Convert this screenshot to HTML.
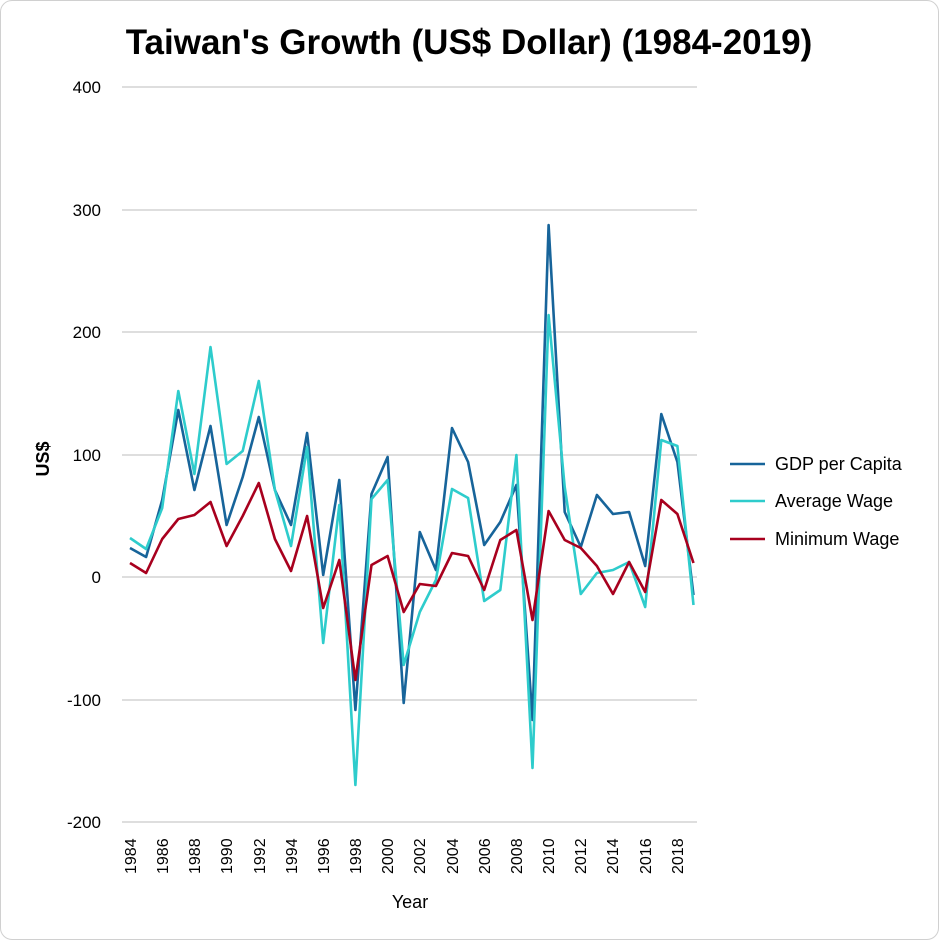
<!DOCTYPE html>
<html><head><meta charset="utf-8"><style>
body{margin:0;background:#fff;}
.card{position:absolute;left:0;top:0;width:937px;height:938px;border:1px solid #d0d0d0;border-radius:12px;background:#fff;}
</style></head><body>
<div class="card"></div>
<svg width="939" height="940" style="position:absolute;left:0;top:0" font-family="Liberation Sans, sans-serif">
<text x="469" y="54" text-anchor="middle" font-size="35" font-weight="bold" fill="#000">Taiwan's Growth (US$ Dollar) (1984-2019)</text>
<g stroke="#d4d4d4" stroke-width="1.5">
<line x1="122" x2="697" y1="87" y2="87"/><line x1="122" x2="697" y1="210" y2="210"/>
<line x1="122" x2="697" y1="332" y2="332"/><line x1="122" x2="697" y1="455" y2="455"/>
<line x1="122" x2="697" y1="577" y2="577"/><line x1="122" x2="697" y1="700" y2="700"/>
<line x1="122" x2="697" y1="822" y2="822"/></g>
<g font-size="17" fill="#000" text-anchor="end">
<text x="101" y="93">400</text><text x="101" y="216">300</text><text x="101" y="338">200</text>
<text x="101" y="461">100</text><text x="101" y="583">0</text><text x="101" y="706">-100</text><text x="101" y="828">-200</text></g>
<text transform="translate(49,459) rotate(-90)" text-anchor="middle" font-size="18" font-weight="bold">US$</text>
<text x="410" y="908" text-anchor="middle" font-size="18">Year</text>
<g fill="none" stroke-width="2.6" stroke-linejoin="round">
<polyline id="g" stroke="#17649a"/><polyline id="a" stroke="#2ecccc"/><polyline id="m" stroke="#a8001e"/></g>
<g stroke-width="2.6">
<line x1="730" x2="765" y1="464" y2="464" stroke="#17649a"/>
<line x1="730" x2="765" y1="501" y2="501" stroke="#2ecccc"/>
<line x1="730" x2="765" y1="539" y2="539" stroke="#a8001e"/></g>
<g font-size="18"><text x="775" y="470">GDP per Capita</text><text x="775" y="507">Average Wage</text><text x="775" y="545">Minimum Wage</text></g>
<g id="labels" font-size="16">
<text transform="translate(136,874) rotate(-90)">1984</text>
<text transform="translate(168,874) rotate(-90)">1986</text>
<text transform="translate(200,874) rotate(-90)">1988</text>
<text transform="translate(232,874) rotate(-90)">1990</text>
<text transform="translate(265,874) rotate(-90)">1992</text>
<text transform="translate(297,874) rotate(-90)">1994</text>
<text transform="translate(329,874) rotate(-90)">1996</text>
<text transform="translate(361,874) rotate(-90)">1998</text>
<text transform="translate(393,874) rotate(-90)">2000</text>
<text transform="translate(425,874) rotate(-90)">2002</text>
<text transform="translate(458,874) rotate(-90)">2004</text>
<text transform="translate(490,874) rotate(-90)">2006</text>
<text transform="translate(522,874) rotate(-90)">2008</text>
<text transform="translate(554,874) rotate(-90)">2010</text>
<text transform="translate(586,874) rotate(-90)">2012</text>
<text transform="translate(618,874) rotate(-90)">2014</text>
<text transform="translate(651,874) rotate(-90)">2016</text>
<text transform="translate(683,874) rotate(-90)">2018</text>
</g>
</svg>
<script>
var G=[548,557,500,410,490,426,525,477,417,490,525,433,575,480,710,494,457,703,532,570,428,462,545,522,485,720,225,512,547,495,514,512,566,414,462,595];
var A=[538,549,508,391,474,347,464,451,381,490,546,447,643,505,785,499,480,665,612,580,489,498,601,590,455,768,315,487,594,573,570,562,607,440,446,605];
var M=[563,573,539,519,515,502,546,516,483,539,571,516,608,560,680,565,556,612,584,586,553,556,590,540,530,620,511,540,548,566,594,562,592,500,514,563];
function p(d){return d.map(function(y,i){return (130+16.1*i).toFixed(1)+","+y}).join(" ");}
document.getElementById("g").setAttribute("points",p(G));
document.getElementById("a").setAttribute("points",p(A));
document.getElementById("m").setAttribute("points",p(M));
</script>
</body></html>
